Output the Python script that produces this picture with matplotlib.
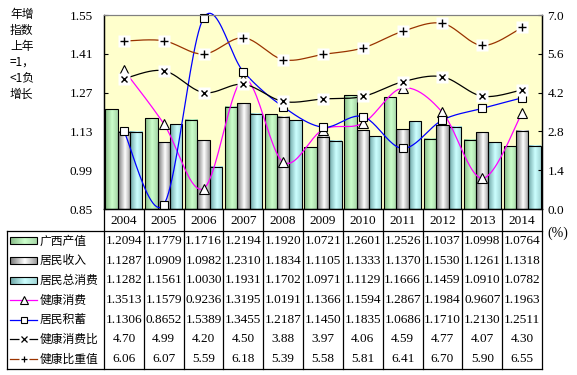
import numpy as np
import matplotlib
matplotlib.use("Agg")
import matplotlib.pyplot as plt
from matplotlib.colors import LinearSegmentedColormap
from matplotlib.patches import Rectangle

# ── data ──────────────────────────────────────────────────────────────
years = ["2004", "2005", "2006", "2007", "2008", "2009",
         "2010", "2011", "2012", "2013", "2014"]
gx_output = [1.2094, 1.1779, 1.1716, 1.2194, 1.1920, 1.0721,
             1.2601, 1.2526, 1.1037, 1.0998, 1.0764]
income = [1.1287, 1.0909, 1.0982, 1.2310, 1.1834, 1.1105,
          1.1333, 1.1370, 1.1530, 1.1261, 1.1318]
consumption = [1.1282, 1.1561, 1.0030, 1.1931, 1.1702, 1.0971,
               1.1129, 1.1666, 1.1459, 1.0910, 1.0782]
health_cons = [1.3513, 1.1579, 0.9236, 1.3195, 1.0191, 1.1366,
               1.1594, 1.2867, 1.1984, 0.9607, 1.1963]
savings = [1.1306, 0.8652, 1.5389, 1.3455, 1.2187, 1.1450,
           1.1835, 1.0686, 1.1710, 1.2130, 1.2511]
health_ratio = [4.70, 4.99, 4.20, 4.50, 3.88, 3.97,
                4.06, 4.59, 4.77, 4.07, 4.30]
health_weight = [6.06, 6.07, 5.59, 6.18, 5.39, 5.58,
                 5.81, 6.41, 6.70, 5.90, 6.55]

left_ticks = [0.85, 0.99, 1.13, 1.27, 1.41, 1.55]
right_ticks = [0.0, 1.4, 2.8, 4.2, 5.6, 7.0]

names = ["广西产值", "居民收入", "居民总消费", "健康消费",
         "居民积蓄", "健康消费比", "健康比重值"]

SERIF = "Liberation Serif"
CJK = ["Noto Sans CJK SC", "DejaVu Sans"]

green = [(0, "#86B986"), (0.55, "#CCFFCC"), (1, "#A6D6A6")]
silver = [(0, "#767676"), (0.55, "#FFFFFF"), (1, "#9C9C9C")]
cyan = [(0, "#6CA4A4"), (0.55, "#CCFFFF"), (1, "#A2D6D6")]

W, H = 577, 375


def fx(px):
    return px / W


def fy(py):
    return 1 - py / H


def grad_fill(axis, patch, stops, z):
    # horizontal gradient laid exactly over a rectangle
    cmap = LinearSegmentedColormap.from_list("g", stops)
    img = np.linspace(0, 1, 64).reshape(1, -1)
    x0, y0 = patch.get_x(), patch.get_y()
    axis.imshow(img, cmap=cmap, aspect="auto", zorder=z,
                interpolation="bilinear",
                extent=(x0, x0 + patch.get_width(),
                        y0, y0 + patch.get_height()))


def smooth(xs, ys, n=24):
    # Excel-style smoothed line (Bezier through the points)
    px = np.r_[xs[0], xs, xs[-1]].astype(float)
    py = np.r_[ys[0], ys, ys[-1]].astype(float)
    t = np.linspace(0, 1, n, endpoint=False)[:, None]
    out = []
    for i in range(1, len(px) - 2):
        p0 = np.array([px[i - 1], py[i - 1]])
        p1 = np.array([px[i], py[i]])
        p2 = np.array([px[i + 1], py[i + 1]])
        p3 = np.array([px[i + 2], py[i + 2]])
        c1 = p1 + (p2 - p0) / 6
        c2 = p2 - (p3 - p1) / 6
        out.append((1 - t) ** 3 * p1 + 3 * (1 - t) ** 2 * t * c1
                   + 3 * (1 - t) * t ** 2 * c2 + t ** 3 * p2)
    out.append(np.array([[px[-2], py[-2]]]))
    out = np.vstack(out)
    return out[:, 0], out[:, 1]


fig = plt.figure(figsize=(5.77, 3.75), dpi=100)

# ── plot area ─────────────────────────────────────────────────────────
ax = fig.add_axes([fx(104), fy(209), fx(542) - fx(104), fy(15) - fy(209)])
ax.set_facecolor("#FFFFCC")
ax2 = ax.twinx()

x = np.arange(len(years))
bw = 0.31
base = left_ticks[0]
for k, (vals, stops) in enumerate([(gx_output, green), (income, silver),
                                   (consumption, cyan)]):
    bars = ax.bar(x + (k - 1) * bw, np.array(vals) - base, bw, bottom=base,
                  facecolor="none", edgecolor="black", linewidth=0.8,
                  zorder=3)
    for b in bars:
        grad_fill(ax, b, stops, 2.5)

sx, sy = smooth(x, health_cons)
ax.plot(sx, sy, color="#FF00FF", lw=0.9, zorder=4)
ax.plot(x, health_cons, ls="none", marker="^", ms=7, mfc="white",
        mec="black", mew=0.8, zorder=5)

sx, sy = smooth(x, savings)
ax.plot(sx, sy, color="#0000FF", lw=0.9, zorder=4, clip_on=False)
ax.plot(x, savings, ls="none", marker="s", ms=6, mfc="white",
        mec="black", mew=0.8, zorder=5, clip_on=False)

sx, sy = smooth(x, health_ratio)
ax2.plot(sx, sy, color="black", lw=0.9, zorder=4)
ax2.plot(x, health_ratio, ls="none", marker="s", ms=8, mfc="white",
         mec="none", zorder=5)
ax2.plot(x, health_ratio, ls="none", marker="x", ms=5, mec="black",
         mew=1.0, zorder=6)

sx, sy = smooth(x, health_weight)
ax2.plot(sx, sy, color="#993300", lw=0.9, zorder=4)
ax2.plot(x, health_weight, ls="none", marker="s", ms=8, mfc="white",
         mec="none", zorder=5)
ax2.plot(x, health_weight, ls="none", marker="+", ms=6, mec="black",
         mew=1.0, zorder=6)

ax.set_xlim(-0.5, len(years) - 0.5)
ax.set_ylim(left_ticks[0], left_ticks[-1])
ax2.set_ylim(right_ticks[0], right_ticks[-1])
ax.set_xticks([])
ax.set_yticks(left_ticks)
ax.set_yticklabels([f"{v:.2f}" for v in left_ticks])
ax2.set_yticks(right_ticks)
ax2.set_yticklabels([f"{v:.1f}" for v in right_ticks])
ax.tick_params(axis="y", direction="in", length=3, pad=8, labelsize=9.5)
ax2.tick_params(axis="y", direction="in", length=3, pad=4, labelsize=9.5)
for t in ax.get_yticklabels() + ax2.get_yticklabels():
    t.set_fontfamily(SERIF)
for a in (ax, ax2):
    a.spines["top"].set_color("#808080")
    for s in ("left", "right", "bottom"):
        a.spines[s].set_color("black")
        a.spines[s].set_linewidth(0.9)

# ── data table ────────────────────────────────────────────────────────
tb, tt, th = 369, 209, 231
col_w = (542 - 104) / len(years)
left_units = (104 - 7) / col_w
tax = fig.add_axes([fx(7), fy(tb), fx(542) - fx(7), fy(tt) - fy(tb)])
x_left = -0.5 - left_units
tax.set_xlim(x_left, len(years) - 0.5)
tax.set_ylim(tb, tt)
tax.axis("off")


def tx(px):
    return -0.5 - (104 - px) / col_w


lk = dict(color="black", lw=0.9, clip_on=False)
for i in range(len(years) + 1):
    tax.plot([i - 0.5, i - 0.5], [tt, tb], **lk)
tax.plot([x_left, x_left], [th, tb], **lk)
tax.plot([x_left, len(years) - 0.5], [th, th], **lk)
tax.plot([x_left, len(years) - 0.5], [tb, tb], **lk)

for i, yr in enumerate(years):
    tax.text(i, (tt + th) / 2 + 1, yr, ha="center", va="center",
             fontsize=9.5, family=SERIF)

rows = [gx_output, income, consumption, health_cons, savings,
        health_ratio, health_weight]
rh = (tb - th) / len(rows)
for r, vals in enumerate(rows):
    yc = th + rh * (r + 0.5)
    fmt = "{:.4f}" if r < 5 else "{:.2f}"
    for i, v in enumerate(vals):
        tax.text(i, yc, fmt.format(v), ha="center", va="center",
                 fontsize=9.5, family=SERIF)
    tax.text(tx(40), yc, names[r], ha="left", va="center",
             fontsize=8.5, family=CJK)
    if r < 3:
        key = Rectangle((tx(10), yc - 3.5), tx(37) - tx(10), 7,
                        facecolor="none", edgecolor="black", lw=0.8,
                        zorder=3, clip_on=False)
        tax.add_patch(key)
        grad_fill(tax, key, [green, silver, cyan][r], 2.5)

line_keys = [("#FF00FF", "^", 6, "black"), ("#0000FF", "s", 5, "black"),
             ("black", "x", 4, None), ("#993300", "+", 5, None)]
for j, (c, m, ms, edge) in enumerate(line_keys):
    yc = th + rh * (j + 3.5)
    tax.plot([tx(10), tx(37)], [yc, yc], color=c, lw=0.9, clip_on=False)
    if edge:
        tax.plot([tx(23.5)], [yc], marker=m, ms=ms, mfc="white", mec=edge,
                 mew=0.8, clip_on=False)
    else:
        tax.plot([tx(23.5)], [yc], marker="s", ms=7, mfc="white",
                 mec="none", clip_on=False)
        tax.plot([tx(23.5)], [yc], marker=m, ms=ms, mec="black", mew=0.9,
                 clip_on=False)
tax.set_xlim(x_left, len(years) - 0.5)
tax.set_ylim(tb, tt)
ax.set_xlim(-0.5, len(years) - 0.5)
ax.set_ylim(left_ticks[0], left_ticks[-1])

# ── side texts ────────────────────────────────────────────────────────
fig.text(fx(10), fy(8), "年增\n指数\n上年\n=1，\n<1负\n增长", ha="left",
         va="top", multialignment="left", fontsize=8.5, family=CJK,
         linespacing=1.3)
fig.text(fx(547), fy(233), "(%)", ha="left", va="center", fontsize=10,
         family=SERIF)

fig.savefig("out.png", dpi=100)
